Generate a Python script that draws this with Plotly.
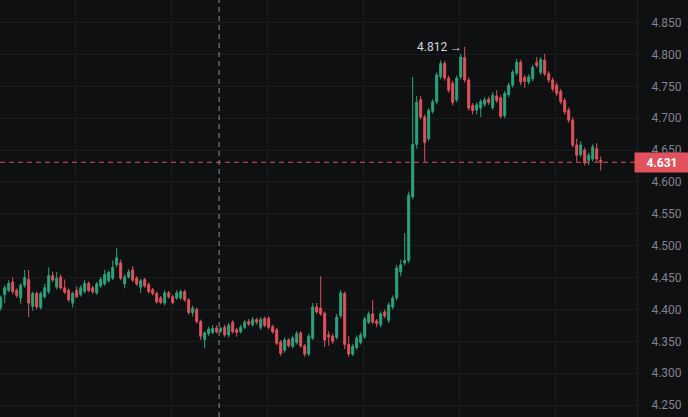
import plotly.graph_objects as go

# OHLC values, one entry per candle
opens = [
    4.403, 4.423, 4.430, 4.443, 4.430, 4.418, 4.438, 4.447, 4.405, 4.425,
    4.403, 4.420, 4.428, 4.453, 4.435, 4.451, 4.434, 4.430, 4.410, 4.430,
    4.423, 4.428, 4.441, 4.434, 4.426, 4.437, 4.440, 4.445, 4.449, 4.470,
    4.473, 4.440, 4.451, 4.462, 4.449, 4.435, 4.447, 4.439, 4.431, 4.425,
    4.418, 4.410, 4.426, 4.420, 4.418, 4.418, 4.428, 4.415, 4.395, 4.400,
    4.381, 4.353, 4.362, 4.364, 4.371, 4.366, 4.372, 4.360, 4.380, 4.368,
    4.365, 4.372, 4.381, 4.376, 4.384, 4.372, 4.386, 4.386, 4.373, 4.368,
    4.349, 4.336, 4.352, 4.342, 4.348, 4.363, 4.343, 4.330, 4.355, 4.404,
    4.402, 4.394, 4.360, 4.358, 4.356, 4.390, 4.425, 4.345, 4.330, 4.340,
    4.348, 4.357, 4.380, 4.393, 4.382, 4.376, 4.396, 4.383, 4.404, 4.418,
    4.459, 4.473, 4.477, 4.577, 4.659, 4.729, 4.702, 4.668, 4.711, 4.726,
    4.765, 4.786, 4.763, 4.755, 4.729, 4.765, 4.795, 4.760, 4.720, 4.713,
    4.716, 4.722, 4.730, 4.717, 4.735, 4.732, 4.704, 4.737, 4.752, 4.771,
    4.788, 4.764, 4.757, 4.762, 4.788, 4.772, 4.791, 4.770, 4.760, 4.752,
    4.742, 4.728, 4.713, 4.697, 4.658, 4.643, 4.650, 4.634, 4.636, 4.652,
    4.634,
]
highs = [
    4.422, 4.438, 4.446, 4.450, 4.433, 4.441, 4.462, 4.462, 4.428, 4.428,
    4.428, 4.440, 4.466, 4.459, 4.459, 4.455, 4.447, 4.433, 4.428, 4.436,
    4.438, 4.446, 4.444, 4.437, 4.443, 4.451, 4.462, 4.461, 4.477, 4.496,
    4.478, 4.455, 4.463, 4.468, 4.452, 4.448, 4.450, 4.442, 4.434, 4.428,
    4.421, 4.430, 4.429, 4.423, 4.430, 4.431, 4.431, 4.418, 4.406, 4.403,
    4.384, 4.366, 4.373, 4.375, 4.375, 4.373, 4.376, 4.379, 4.383, 4.371,
    4.376, 4.384, 4.385, 4.388, 4.387, 4.388, 4.389, 4.389, 4.376, 4.371,
    4.352, 4.356, 4.355, 4.359, 4.366, 4.366, 4.346, 4.362, 4.410, 4.410,
    4.452, 4.397, 4.366, 4.362, 4.393, 4.430, 4.428, 4.358, 4.346, 4.359,
    4.364, 4.389, 4.397, 4.415, 4.385, 4.397, 4.400, 4.411, 4.422, 4.470,
    4.478, 4.520, 4.585, 4.765, 4.735, 4.735, 4.706, 4.716, 4.730, 4.772,
    4.791, 4.790, 4.767, 4.759, 4.767, 4.801, 4.812, 4.764, 4.724, 4.725,
    4.730, 4.733, 4.734, 4.741, 4.744, 4.736, 4.743, 4.756, 4.776, 4.793,
    4.792, 4.768, 4.769, 4.784, 4.796, 4.796, 4.801, 4.774, 4.764, 4.756,
    4.746, 4.732, 4.717, 4.701, 4.668, 4.664, 4.654, 4.646, 4.659, 4.661,
    4.640,
]
lows = [
    4.398, 4.410, 4.427, 4.424, 4.418, 4.409, 4.434, 4.388, 4.398, 4.400,
    4.400, 4.417, 4.424, 4.443, 4.431, 4.431, 4.424, 4.412, 4.403, 4.418,
    4.420, 4.425, 4.427, 4.424, 4.423, 4.434, 4.437, 4.442, 4.446, 4.466,
    4.446, 4.433, 4.448, 4.443, 4.437, 4.426, 4.434, 4.425, 4.422, 4.409,
    4.408, 4.406, 4.417, 4.408, 4.415, 4.415, 4.412, 4.392, 4.389, 4.378,
    4.352, 4.339, 4.358, 4.361, 4.362, 4.363, 4.357, 4.356, 4.362, 4.357,
    4.362, 4.369, 4.374, 4.373, 4.376, 4.368, 4.372, 4.369, 4.362, 4.344,
    4.327, 4.332, 4.340, 4.339, 4.345, 4.340, 4.326, 4.327, 4.352, 4.393,
    4.390, 4.341, 4.343, 4.346, 4.353, 4.386, 4.338, 4.326, 4.327, 4.337,
    4.345, 4.354, 4.377, 4.377, 4.372, 4.372, 4.386, 4.379, 4.400, 4.414,
    4.452, 4.469, 4.473, 4.573, 4.652, 4.698, 4.632, 4.664, 4.707, 4.722,
    4.761, 4.759, 4.740, 4.720, 4.725, 4.761, 4.756, 4.712, 4.706, 4.706,
    4.702, 4.718, 4.721, 4.713, 4.724, 4.700, 4.700, 4.733, 4.748, 4.767,
    4.752, 4.748, 4.753, 4.758, 4.779, 4.768, 4.766, 4.756, 4.742, 4.735,
    4.722, 4.706, 4.693, 4.654, 4.632, 4.639, 4.626, 4.626, 4.632, 4.632,
    4.618,
]
closes = [
    4.419, 4.434, 4.441, 4.428, 4.422, 4.438, 4.450, 4.410, 4.425, 4.404,
    4.425, 4.434, 4.453, 4.446, 4.449, 4.434, 4.427, 4.415, 4.425, 4.420,
    4.434, 4.441, 4.430, 4.428, 4.440, 4.447, 4.455, 4.458, 4.466, 4.481,
    4.449, 4.451, 4.459, 4.446, 4.440, 4.445, 4.437, 4.428, 4.425, 4.412,
    4.411, 4.426, 4.420, 4.411, 4.426, 4.428, 4.415, 4.395, 4.402, 4.381,
    4.358, 4.363, 4.369, 4.370, 4.365, 4.370, 4.360, 4.375, 4.365, 4.364,
    4.372, 4.380, 4.377, 4.384, 4.380, 4.384, 4.375, 4.372, 4.365, 4.347,
    4.331, 4.352, 4.343, 4.355, 4.362, 4.343, 4.330, 4.358, 4.404, 4.396,
    4.393, 4.352, 4.357, 4.350, 4.388, 4.426, 4.345, 4.330, 4.342, 4.355,
    4.360, 4.385, 4.393, 4.380, 4.378, 4.393, 4.390, 4.407, 4.418, 4.465,
    4.470, 4.477, 4.579, 4.659, 4.725, 4.702, 4.662, 4.712, 4.726, 4.768,
    4.786, 4.763, 4.744, 4.725, 4.763, 4.796, 4.760, 4.716, 4.712, 4.721,
    4.726, 4.729, 4.725, 4.736, 4.728, 4.703, 4.739, 4.752, 4.772, 4.788,
    4.757, 4.758, 4.765, 4.780, 4.783, 4.792, 4.770, 4.760, 4.746, 4.739,
    4.726, 4.710, 4.697, 4.658, 4.642, 4.658, 4.630, 4.642, 4.655, 4.636,
    4.631,
]
bars = list(range(len(closes)))

last_price = 4.631
high_price = 4.812
high_bar = 116
cursor_bar = 54.6

UP = "#2aa67d"
DOWN = "#e2525c"
BG = "#0f1012"
GRID = "#1b1c20"
TEXT = "#80838c"

fig = go.Figure(go.Candlestick(
    x=bars, open=opens, high=highs, low=lows, close=closes,
    increasing=dict(line=dict(color=UP, width=1), fillcolor=UP),
    decreasing=dict(line=dict(color=DOWN, width=1), fillcolor=DOWN),
    whiskerwidth=0,
    hoverinfo="skip",
))

# last price line + crosshair
fig.add_shape(type="line", xref="paper", x0=0, x1=1, y0=last_price, y1=last_price,
              line=dict(color=DOWN, width=1, dash="5px,4px"))
fig.add_shape(type="line", yref="paper", y0=0, y1=1, x0=cursor_bar, x1=cursor_bar,
              line=dict(color="#8b8e96", width=1, dash="5px,4px"))

fig.add_annotation(x=high_bar, y=high_price, text="4.812 →", showarrow=False,
                   xanchor="right", yanchor="middle", xshift=-1,
                   font=dict(color="#d1d4dc", size=12))
fig.add_annotation(xref="paper", x=1, y=last_price, text="<b>4.631</b>", showarrow=False,
                   xanchor="left", yanchor="middle", xshift=-3,
                   bgcolor=DOWN, width=50, height=15, borderpad=2,
                   font=dict(color="#ffffff", size=12))

fig.update_layout(
    width=688, height=417,
    margin=dict(l=0, r=51, t=0, b=0),
    paper_bgcolor=BG, plot_bgcolor=BG,
    font=dict(family="Roboto", color=TEXT, size=12),
    showlegend=False,
)
fig.update_xaxes(
    range=[-0.175, 159.07], rangeslider_visible=False,
    showticklabels=False, showgrid=True, gridcolor=GRID,
    tick0=18.7, dtick=24, zeroline=False, showline=False,
)
fig.update_yaxes(
    side="right", range=[4.2312, 4.8856],
    tick0=4.25, dtick=0.05, tickformat=".3f",
    showgrid=True, gridcolor=GRID, zeroline=False,
    showline=True, linecolor="#1f2024",
    ticks="", ticklabelstandoff=11,
    tickfont=dict(color=TEXT, size=12),
)

fig.write_html(
    "out.html",
    config={"displayModeBar": False},
    post_script="document.body.style.margin='0';document.body.style.background='%s';" % BG,
)
